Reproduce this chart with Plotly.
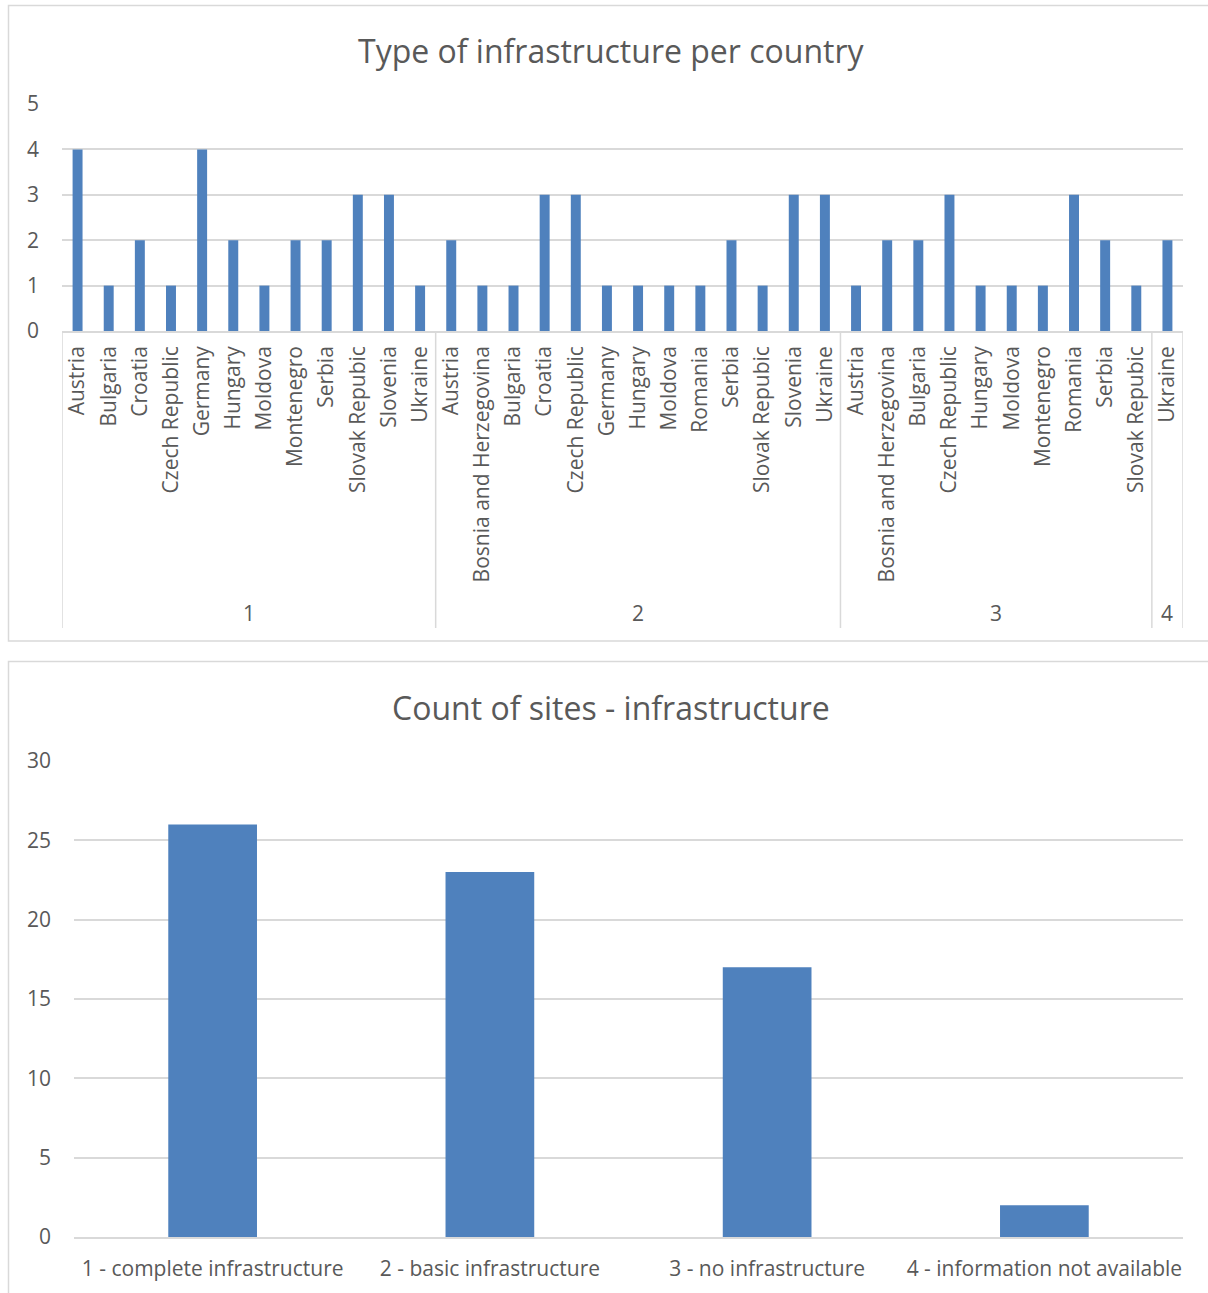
import plotly.graph_objects as go

# Infrastructure type per country (type 1..4, countries within each type)
type1_countries = ["Austria", "Bulgaria", "Croatia", "Czech Republic", "Germany", "Hungary",
                   "Moldova", "Montenegro", "Serbia", "Slovak Repubic", "Slovenia", "Ukraine"]
type1_counts = [4, 1, 2, 1, 4, 2, 1, 2, 2, 3, 3, 1]

type2_countries = ["Austria", "Bosnia and Herzegovina", "Bulgaria", "Croatia", "Czech Republic",
                   "Germany", "Hungary", "Moldova", "Romania", "Serbia", "Slovak Repubic",
                   "Slovenia", "Ukraine"]
type2_counts = [2, 1, 1, 3, 3, 1, 1, 1, 1, 2, 1, 3, 3]

type3_countries = ["Austria", "Bosnia and Herzegovina", "Bulgaria", "Czech Republic", "Hungary",
                   "Moldova", "Montenegro", "Romania", "Serbia", "Slovak Repubic"]
type3_counts = [1, 2, 2, 3, 1, 1, 1, 3, 2, 1]

type4_countries = ["Ukraine"]
type4_counts = [2]

type_labels = ["1", "2", "3", "4"]

# Total number of sites per infrastructure type
site_categories = ["1 - complete infrastructure", "2 - basic infrastructure",
                   "3 - no infrastructure", "4 - information not available"]
site_counts = [26, 23, 17, 2]

BAR = "#4F81BD"
GRID = "#D9D9D9"
TEXT = "#595959"
FONT = "Open Sans"

W, H = 1208, 1293


def px_x(p):
    return p / W


def px_y(p):
    return 1 - p / H


# Flatten the grouped categories onto one positional axis
country_groups = [type1_countries, type2_countries, type3_countries, type4_countries]
count_groups = [type1_counts, type2_counts, type3_counts, type4_counts]
countries, counts = [], []
group_bounds = []  # (start, end) index range of each type
for cs, vs in zip(country_groups, count_groups):
    start = len(countries)
    countries += cs
    counts += vs
    group_bounds.append((start, len(countries)))
positions = list(range(len(countries)))

fig = go.Figure()
fig.add_trace(go.Bar(x=positions, y=counts, marker=dict(color=BAR, line=dict(width=0)),
                     xaxis="x", yaxis="y", showlegend=False))
fig.add_trace(go.Bar(x=site_categories, y=site_counts, marker=dict(color=BAR, line=dict(width=0)),
                     xaxis="x2", yaxis="y2", showlegend=False))

tickfont = dict(family=FONT, size=21, color=TEXT)

# Group dividers and group labels under the country labels
axis_y = px_y(331)
divider_bottom = px_y(628)
shapes, annotations = [], []
edges = sorted({b for pair in group_bounds for b in pair})
for e in edges:
    shapes.append(dict(type="line", xref="x", yref="paper", x0=e - 0.5, x1=e - 0.5,
                       y0=axis_y, y1=divider_bottom, line=dict(color=GRID, width=1.5)))
for lab, (s, e) in zip(type_labels, group_bounds):
    annotations.append(dict(text=lab, x=(s + e - 1) / 2, y=px_y(613), xref="x", yref="paper",
                            yanchor="middle", showarrow=False, font=tickfont))

annotations += [
    dict(text="Type of infrastructure per country", x=0.506, y=px_y(50),
         xref="paper", yref="paper", xanchor="center", yanchor="middle", showarrow=False,
         font=dict(family=FONT, size=32, color=TEXT)),
    dict(text="Count of sites - infrastructure", x=0.506, y=px_y(707),
         xref="paper", yref="paper", xanchor="center", yanchor="middle", showarrow=False,
         font=dict(family=FONT, size=32, color=TEXT)),
]
shapes += [
    dict(type="rect", xref="paper", yref="paper", x0=px_x(8.5), x1=1.01,
         y0=px_y(641), y1=px_y(5.5), line=dict(color=GRID, width=1.5), layer="below"),
    dict(type="rect", xref="paper", yref="paper", x0=px_x(8.5), x1=1.01,
         y0=-0.01, y1=px_y(661.5), line=dict(color=GRID, width=1.5), layer="below"),
]

fig.update_layout(
    width=W, height=H,
    margin=dict(l=0, r=0, t=0, b=0, autoexpand=False),
    paper_bgcolor="white", plot_bgcolor="white",
    bargap=0.68,
    font=dict(family=FONT, color=TEXT),
    xaxis=dict(domain=[px_x(62), px_x(1183)], anchor="y", range=[-0.5, len(countries) - 0.5],
               tickmode="array", tickvals=positions, ticktext=countries,
               tickangle=-90, tickfont=tickfont, showline=True, linecolor=GRID, linewidth=1.5,
               ticks="", showgrid=False, zeroline=False, ticklabelstandoff=5, automargin=False),
    yaxis=dict(domain=[px_y(331), px_y(104)], anchor="x", range=[0, 5], dtick=1,
               gridcolor=GRID, gridwidth=1.5, zeroline=False, tickfont=tickfont,
               ticks="", ticklabelstandoff=22, automargin=False),
    xaxis2=dict(domain=[px_x(74), px_x(1183)], anchor="y2", tickfont=tickfont,
                showline=True, linecolor=GRID, linewidth=1.5, ticks="",
                ticklabelstandoff=12, automargin=False),
    yaxis2=dict(domain=[px_y(1237), px_y(761)], anchor="x2", range=[0, 30], dtick=5,
                gridcolor=GRID, gridwidth=1.5, zeroline=False, tickfont=tickfont,
                ticks="", ticklabelstandoff=22, automargin=False),
    annotations=annotations,
    shapes=shapes,
)

fig.write_html("out.html")
